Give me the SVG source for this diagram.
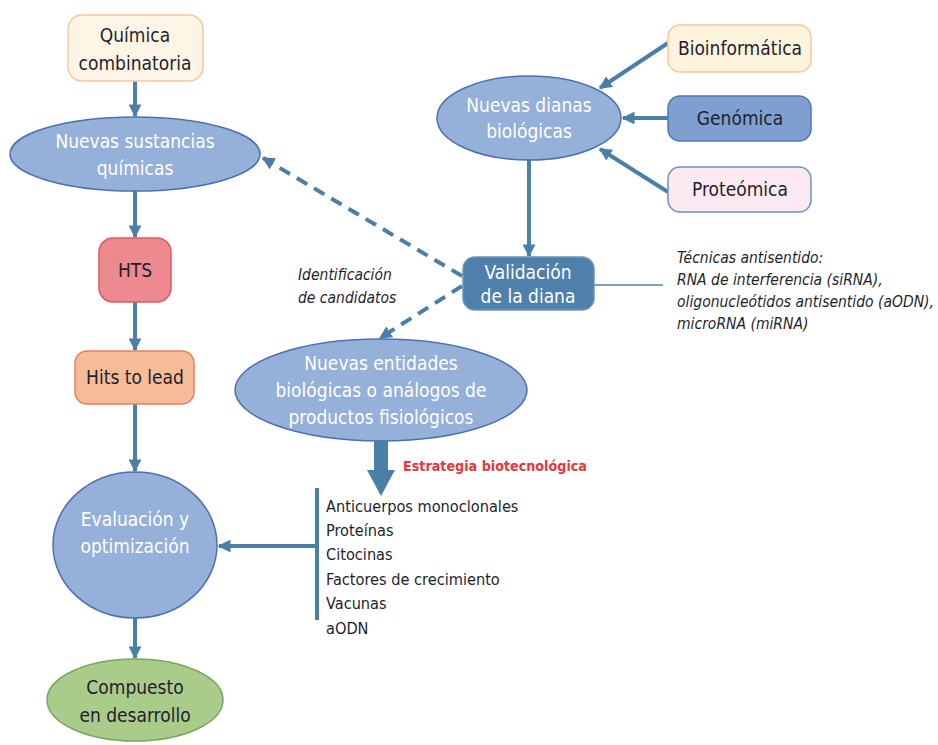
<svg xmlns="http://www.w3.org/2000/svg" width="938" height="745" viewBox="0 0 938 745">
  <style>
    text { font-family: "Liberation Sans Narrow", "DejaVu Sans Condensed", "Liberation Sans", sans-serif; font-size: 19px; text-anchor: middle; fill: #1f1f2e; }
    .w { fill: #ffffff; }
    .it { font-style: italic; text-anchor: start; font-size: 15.5px; }
    .ls { text-anchor: start; font-size: 16.2px; }
    .red { fill: #e8373c; font-weight: bold; text-anchor: start; font-size: 14.2px; }
    .ell { fill: #95b0d9; stroke: #4d6fb3; stroke-width: 1.5; }
    .ln { stroke: #4a7fa8; stroke-width: 4; fill: none; }
    .dash { stroke: #4a7fa8; stroke-width: 4; fill: none; stroke-dasharray: 12 8; }
    .thin { stroke: #4a7fa8; stroke-width: 1.5; fill: none; }
  </style>
  <defs>
    <marker id="ah" viewBox="0 0 10 10" refX="9" refY="5" markerWidth="3.2" markerHeight="3.2" orient="auto" markerUnits="strokeWidth">
      <path d="M0,0 L10,5 L0,10 z" fill="#4a7fa8"/>
    </marker>
  </defs>
  <rect width="938" height="745" fill="#ffffff"/>

  <g id="connectors">
    <line class="ln" x1="135" y1="81" x2="135" y2="116" marker-end="url(#ah)"/>
    <line class="ln" x1="135" y1="191" x2="135" y2="237" marker-end="url(#ah)"/>
    <line class="ln" x1="135" y1="302" x2="135" y2="350" marker-end="url(#ah)"/>
    <line class="ln" x1="135" y1="404" x2="135" y2="471" marker-end="url(#ah)"/>
    <line class="ln" x1="135" y1="618" x2="135" y2="658" marker-end="url(#ah)"/>
    <line class="ln" x1="668" y1="43" x2="600" y2="88" marker-end="url(#ah)"/>
    <line class="ln" x1="668" y1="118" x2="623" y2="118" stroke-width="5" marker-end="url(#ah)"/>
    <line class="ln" x1="668" y1="192" x2="600" y2="149" marker-end="url(#ah)"/>
    <line class="ln" x1="529" y1="160" x2="529" y2="256" marker-end="url(#ah)"/>
    <line class="thin" x1="594" y1="285" x2="663" y2="285"/>
    <line class="dash" x1="462" y1="276" x2="263" y2="158" marker-end="url(#ah)"/>
    <line class="dash" x1="462" y1="286" x2="380" y2="338" marker-end="url(#ah)"/>
    <!-- thick arrow to the biotech list -->
    <path d="M374,441 L388,441 L388,470 L395,470 L381,496 L367,470 L374,470 z" fill="#4a7fa8"/>
    <line class="ln" x1="317" y1="488" x2="317" y2="620"/>
    <line class="ln" x1="317" y1="546" x2="219" y2="546" marker-end="url(#ah)"/>
  </g>

  <g id="quimica-combinatoria">
    <rect x="68" y="15" width="135" height="66" rx="14" fill="#fef5e6" stroke="#f8c8a0" stroke-width="1.5"/>
    <text x="135" y="42">Química</text>
    <text x="135" y="70">combinatoria</text>
  </g>

  <g id="nuevas-sustancias">
    <ellipse class="ell" cx="135" cy="154" rx="125" ry="37"/>
    <text class="w" x="135" y="148">Nuevas sustancias</text>
    <text class="w" x="135" y="175">químicas</text>
  </g>

  <g id="hts">
    <rect x="99" y="238" width="72" height="64" rx="14" fill="#ec8a8f" stroke="#e3585e" stroke-width="1.5"/>
    <text x="135" y="277">HTS</text>
  </g>

  <g id="hits-to-lead">
    <rect x="75" y="351" width="119" height="53" rx="12" fill="#f5bc97" stroke="#ee7b63" stroke-width="1.5"/>
    <text x="135" y="384">Hits to lead</text>
  </g>

  <g id="evaluacion">
    <ellipse class="ell" cx="135" cy="545" rx="82" ry="73"/>
    <text class="w" x="135" y="526">Evaluación y</text>
    <text class="w" x="135" y="553">optimización</text>
  </g>

  <g id="compuesto">
    <ellipse cx="135" cy="700" rx="88" ry="41" fill="#a9cc8b" stroke="#7aa65c" stroke-width="1.5"/>
    <text x="135" y="694">Compuesto</text>
    <text x="135" y="722">en desarrollo</text>
  </g>

  <g id="bioinformatica">
    <rect x="668" y="25" width="143" height="47" rx="12" fill="#fef3dc" stroke="#f8c99a" stroke-width="1.5"/>
    <text x="740" y="55">Bioinformática</text>
  </g>

  <g id="genomica">
    <rect x="668" y="96" width="143" height="45" rx="12" fill="#7f9fd1" stroke="#4f78b5" stroke-width="1.5"/>
    <text x="740" y="125">Genómica</text>
  </g>

  <g id="proteomica">
    <rect x="668" y="167" width="143" height="45" rx="12" fill="#fbeaf1" stroke="#7290c2" stroke-width="1.5"/>
    <text x="740" y="196">Proteómica</text>
  </g>

  <g id="nuevas-dianas">
    <ellipse class="ell" cx="529" cy="118" rx="92" ry="42"/>
    <text class="w" x="529" y="112">Nuevas dianas</text>
    <text class="w" x="529" y="138">biológicas</text>
  </g>

  <g id="validacion">
    <rect x="463" y="257" width="131" height="53" rx="12" fill="#4f80ab" stroke="#6d94b8" stroke-width="1.5"/>
    <text class="w" x="528" y="279">Validación</text>
    <text class="w" x="528" y="303">de la diana</text>
  </g>

  <g id="tecnicas-antisentido">
    <text class="it" x="677" y="263">Técnicas antisentido:</text>
    <text class="it" x="677" y="285">RNA de interferencia (siRNA),</text>
    <text class="it" x="677" y="307">oligonucleótidos antisentido (aODN),</text>
    <text class="it" x="677" y="329">microRNA (miRNA)</text>
  </g>

  <g id="identificacion">
    <text class="it" x="298" y="280" font-size="16">Identificación</text>
    <text class="it" x="298" y="303" font-size="16">de candidatos</text>
  </g>

  <g id="nuevas-entidades">
    <ellipse class="ell" cx="381" cy="390" rx="146" ry="51"/>
    <text class="w" x="381" y="370">Nuevas entidades</text>
    <text class="w" x="381" y="397">biológicas o análogos de</text>
    <text class="w" x="381" y="424">productos fisiológicos</text>
  </g>

  <g id="estrategia-biotecnologica">
    <text class="red" x="403" y="471">Estrategia biotecnológica</text>
    <text class="ls" x="326" y="512">Anticuerpos monoclonales</text>
    <text class="ls" x="326" y="536">Proteínas</text>
    <text class="ls" x="326" y="560">Citocinas</text>
    <text class="ls" x="326" y="585">Factores de crecimiento</text>
    <text class="ls" x="326" y="609">Vacunas</text>
    <text class="ls" x="326" y="634">aODN</text>
  </g>
</svg>
